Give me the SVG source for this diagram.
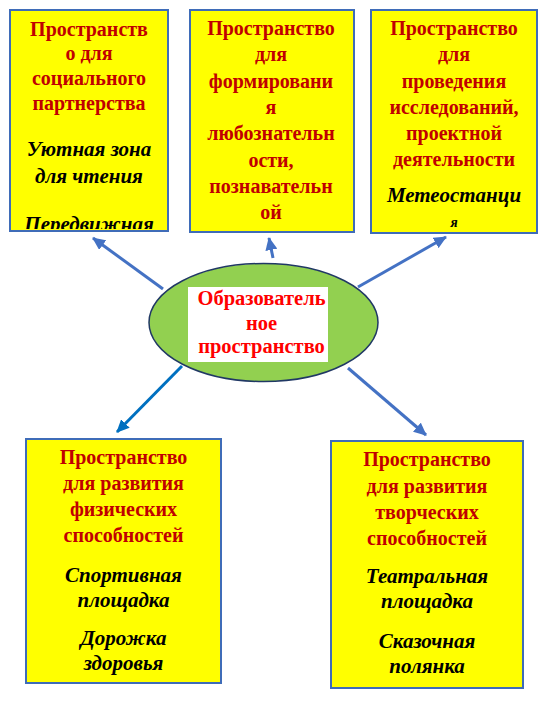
<svg xmlns="http://www.w3.org/2000/svg" width="545" height="703" viewBox="0 0 545 703">
<style>
.box{fill:#ffff00;stroke:#3f6cb8;stroke-width:2}
.t{font-family:"Liberation Serif","Times New Roman",serif;font-weight:bold;font-size:20px;fill:#c00000;text-anchor:middle}
.i{font-family:"Liberation Serif","Times New Roman",serif;font-weight:bold;font-style:italic;font-size:21px;fill:#000;text-anchor:middle}
.c{font-family:"Liberation Serif","Times New Roman",serif;font-weight:bold;font-size:20.5px;fill:#ff0000;text-anchor:middle}
.a{stroke:#4472c4;stroke-width:3;fill:none;marker-end:url(#ah)}
.a2{stroke:#0070c0;stroke-width:3;fill:none;marker-end:url(#ah2)}
</style>
<defs>
<marker id="ah" markerUnits="userSpaceOnUse" markerWidth="14" markerHeight="12" refX="12" refY="6" orient="auto" viewBox="0 0 14 12"><path d="M0,0 L13,6 L0,12 Z" fill="#4472c4"/></marker>
<marker id="ah2" markerUnits="userSpaceOnUse" markerWidth="14" markerHeight="12" refX="12" refY="6" orient="auto" viewBox="0 0 14 12"><path d="M0,0 L13,6 L0,12 Z" fill="#0070c0"/></marker>
<clipPath id="c1"><rect x="11" y="11" width="156" height="218"/></clipPath>
<clipPath id="c3"><rect x="372" y="11" width="164" height="221"/></clipPath>
</defs>
<rect width="545" height="703" fill="#fff"/>
<g id="connectors">
<line class="a" x1="163" y1="289" x2="93" y2="238"/>
<line class="a" x1="273" y1="258" x2="269" y2="238"/>
<line class="a" x1="358" y1="287" x2="446" y2="237"/>
<line class="a2" x1="182" y1="366" x2="117" y2="432"/>
<line class="a" x1="348" y1="368" x2="426" y2="435"/>
</g>
<g id="center">
<ellipse cx="263.5" cy="322.5" rx="114.5" ry="59" fill="#92d050" stroke="#203864" stroke-width="1.5"/>
<rect x="188" y="287" width="140" height="75" fill="#fff"/>
<text class="c" x="261.5" y="305">Образователь</text>
<text class="c" x="261.5" y="330">ное</text>
<text class="c" x="261.5" y="353">пространство</text>
</g>
<g id="social">
<rect class="box" x="10" y="10" width="158" height="221"/>
<g clip-path="url(#c1)">
<text class="t" x="89" y="35.7">Пространств</text>
<text class="t" x="89" y="60.3">о для</text>
<text class="t" x="89" y="84.9">социального</text>
<text class="t" x="89" y="109.5">партнерства</text>
<text class="i" x="89" y="155.5">Уютная зона</text>
<text class="i" x="89" y="182.5">для чтения</text>
<text class="i" x="89" y="230.5">Передвижная</text>
</g>
</g>
<g id="curiosity">
<rect class="box" x="190" y="10" width="164" height="222"/>
<text class="t" x="271" y="35">Пространство</text>
<text class="t" x="271" y="61.3">для</text>
<text class="t" x="271" y="87.6">формировани</text>
<text class="t" x="271" y="113.9">я</text>
<text class="t" x="271" y="140.2">любознательн</text>
<text class="t" x="271" y="166.5">ости,</text>
<text class="t" x="271" y="192.8">познавательн</text>
<text class="t" x="271" y="219">ой</text>
</g>
<g id="research">
<rect class="box" x="371" y="10" width="166" height="223"/>
<g clip-path="url(#c3)">
<text class="t" x="454" y="35">Пространство</text>
<text class="t" x="454" y="61.3">для</text>
<text class="t" x="454" y="87.6">проведения</text>
<text class="t" x="454" y="113.9">исследований,</text>
<text class="t" x="454" y="140">проектной</text>
<text class="t" x="454" y="165.8">деятельности</text>
<text class="i" x="454" y="201.7">Метеостанци</text>
<text class="i" x="454" y="226.7" style="font-size:14px">я</text>
</g>
</g>
<g id="physical">
<rect class="box" x="26" y="439" width="195" height="244"/>
<text class="t" x="123.5" y="464">Пространство</text>
<text class="t" x="123.5" y="490">для развития</text>
<text class="t" x="123.5" y="516">физических</text>
<text class="t" x="123.5" y="542">способностей</text>
<text class="i" x="123.5" y="582">Спортивная</text>
<text class="i" x="123.5" y="607">площадка</text>
<text class="i" x="123.5" y="645">Дорожка</text>
<text class="i" x="123.5" y="670">здоровья</text>
</g>
<g id="creative">
<rect class="box" x="331" y="441" width="192" height="247"/>
<text class="t" x="427" y="466">Пространство</text>
<text class="t" x="427" y="493">для развития</text>
<text class="t" x="427" y="519">творческих</text>
<text class="t" x="427" y="545">способностей</text>
<text class="i" x="427" y="583">Театральная</text>
<text class="i" x="427" y="608">площадка</text>
<text class="i" x="427" y="648">Сказочная</text>
<text class="i" x="427" y="673">полянка</text>
</g>
</svg>
